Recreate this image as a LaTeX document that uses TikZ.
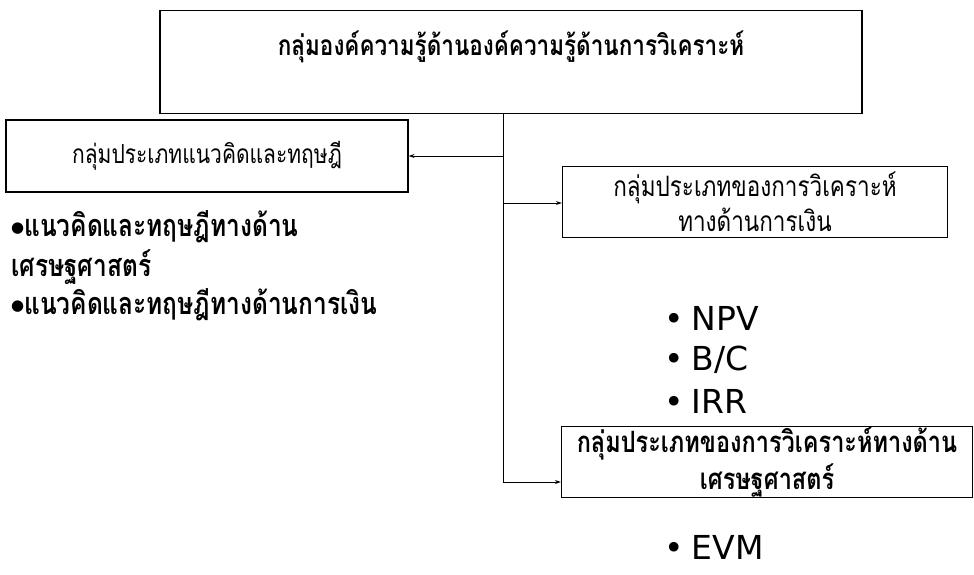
\documentclass[tikz,border=0pt]{standalone}
\usepackage{fontspec}
\usepackage{graphicx}
\setmainfont{DejaVu Sans}
\newfontfamily\thai[Script=Thai]{Loma}
\newfontfamily\latin{DejaVu Sans}
\usetikzlibrary{arrows.meta}
\tikzset{
  box/.style={draw, line width=1.3pt, inner sep=0pt, align=center},
  conn/.style={line width=0.9pt},
  arr/.style={conn, -{Stealth[length=6pt,width=4pt]}},
  leftitem/.style={font=\thai\bfseries\fontsize{24.5}{28}\selectfont, inner sep=0pt, anchor=west},
  bul/.style={font=\latin\fontsize{33}{36}\selectfont, inner sep=0pt, anchor=west},
}
% Thai lines are set a little taller than the font draws them
\newcommand{\tall}[1]{\scalebox{1}[1.25]{#1}}
\newcommand{\dotmark}{\raisebox{4pt}{\latin\fontsize{15}{15}\selectfont ●}}
\begin{document}
\begin{tikzpicture}[x=1pt,y=-1pt]
\useasboundingbox (0,0) rectangle (974,574);

% boxes
\node[box, minimum width=702pt, minimum height=103pt] (top) at (511,62) {};
\node[font=\thai\bfseries\fontsize{22.5}{26}\selectfont, inner sep=0pt] (toptext) at (511,47)
  {\tall{กลุ่มองค์ความรู้ด้านองค์ความรู้ด้านการวิเคราะห์}};

\node[box, minimum width=402pt, minimum height=72pt,
      font=\thai\fontsize{21}{24}\selectfont] (theory) at (207,156)
  {\tall{กลุ่มประเภทแนวคิดและทฤษฎี}};

\node[box, minimum width=385pt, minimum height=71pt,
      font=\thai\fontsize{22.5}{35}\selectfont] (fin) at (755,202)
  {\tall{กลุ่มประเภทของการวิเคราะห์}\\\tall{ทางด้านการเงิน}};

\node[box, minimum width=411pt, minimum height=70pt,
      font=\thai\bfseries\fontsize{23.5}{37}\selectfont] (eco) at (767,462)
  {\tall{กลุ่มประเภทของการวิเคราะห์ทางด้าน}\\\tall{เศรษฐศาสตร์}};

% trunk and branches
\coordinate (trunkTop) at (503,113);
\coordinate (jTheory) at (503,156);
\coordinate (jFin) at (503,203);
\coordinate (jEco) at (503,482);
\draw[conn] (trunkTop) -- (jEco);
\draw[arr] (jTheory) -- (theory.east |- jTheory);
\draw[arr] (jFin) -- (fin.west |- jFin);
\draw[arr] (jEco) -- (eco.west |- jEco);

% left bullet list
\node[leftitem] (t1) at (11,227) {\dotmark\tall{แนวคิดและทฤษฎีทางด้าน}};
\node[leftitem] (t2) at (11,267) {\tall{เศรษฐศาสตร์}};
\node[leftitem] (t3) at (11,305) {\dotmark\tall{แนวคิดและทฤษฎีทางด้านการเงิน}};

% right bullet lists
\node[bul] (npv) at (664,318) {•\hspace{8pt}NPV};
\node[bul] (bc)  at (664,360) {•\hspace{8pt}B/C};
\node[bul] (irr) at (664,401) {•\hspace{8pt}IRR};
\node[bul] (evm) at (664,547) {•\hspace{8pt}EVM};
\end{tikzpicture}
\end{document}
